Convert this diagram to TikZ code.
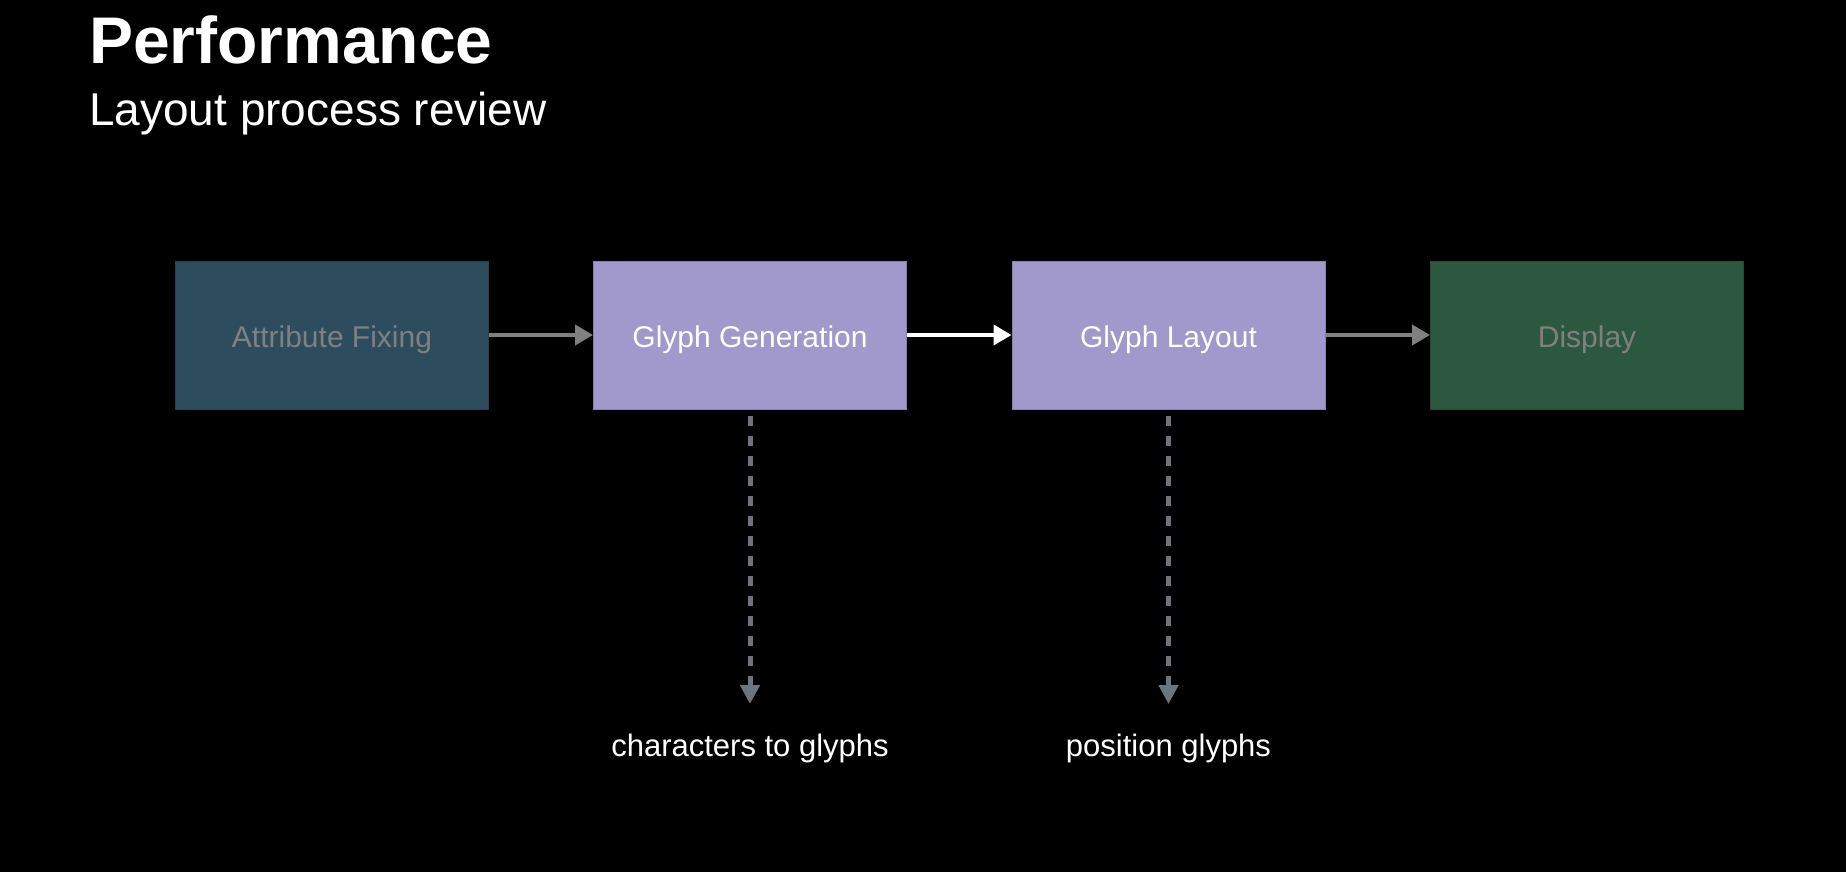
\documentclass[tikz,border=0pt]{standalone}
\usepackage{fontspec}
\setmainfont{Liberation Sans}
\usetikzlibrary{arrows.meta}
\definecolor{attrfill}{RGB}{45,77,95}
\definecolor{glyphfill}{RGB}{161,152,203}
\definecolor{dispfill}{RGB}{43,88,63}
\definecolor{dimtext}{RGB}{128,128,128}
\definecolor{flowgray}{RGB}{128,128,128}
\definecolor{notegray}{RGB}{107,117,125}
\tikzset{
  stage/.style={rectangle, minimum width=313pt, minimum height=148pt, inner sep=0pt, line width=1pt},
  stagetext/.style={font=\fontsize{30}{36}\selectfont, anchor=base, inner sep=0pt},
  flow/.style={line width=4pt, -{Triangle[length=18pt,width=20pt]}},
  note/.style={line width=5pt, notegray, dash pattern=on 10pt off 10pt, shorten <=6pt,
    -{Triangle[length=19pt,width=19pt]}},
  notetext/.style={font=\fontsize{31}{37}\selectfont, text=white, anchor=base, inner sep=0pt}
}
\begin{document}
\begin{tikzpicture}[x=1pt,y=-1pt]
  \fill[black] (0,0) rectangle (1846,872);
  \useasboundingbox (0,0) rectangle (1846,872);

  % headings
  \node[anchor=base west, inner sep=0pt, text=white, font=\bfseries\fontsize{66}{78}\selectfont] (title) at (89,64) {Performance};
  \node[anchor=base west, inner sep=0pt, text=white, font=\fontsize{46}{56}\selectfont] (subtitle) at (89,125) {Layout process review};

  % pipeline stages
  \node[stage, fill=attrfill, draw=attrfill!85!black] (attr) at (332,335) {};
  \node[stage, fill=glyphfill, draw=glyphfill!85!black] (gen) at (750,335) {};
  \node[stage, fill=glyphfill, draw=glyphfill!85!black] (lay) at (1168.5,335) {};
  \node[stage, fill=dispfill, draw=dispfill!85!black] (disp) at (1587,335) {};

  \node[stagetext, text=dimtext] (attrt) at (332,347) {Attribute Fixing};
  \node[stagetext, text=white] (gent) at (750,347) {Glyph Generation};
  \node[stagetext, text=white] (layt) at (1168.5,347) {Glyph Layout};
  \node[stagetext, text=dimtext] (dispt) at (1587,347) {Display};

  % flow between stages
  \draw[flow, flowgray] (attr.east) -- (gen.west);
  \draw[flow, white] (gen.east) -- (lay.west);
  \draw[flow, flowgray] (lay.east) -- (disp.west);

  % what each glyph stage does
  \coordinate (gentip) at (750,704);
  \coordinate (laytip) at (1168.5,704);
  \draw[note] (gen.south) -- (gentip);
  \draw[note] (lay.south) -- (laytip);
  \node[notetext] (gennote) at (750,756) {characters to glyphs};
  \node[notetext] (laynote) at (1168.5,756) {position glyphs};
\end{tikzpicture}
\end{document}
